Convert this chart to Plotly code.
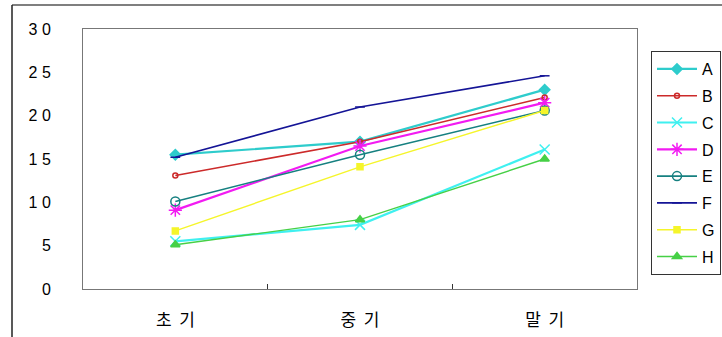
import plotly.graph_objects as go

categories = ["초 기", "중 기", "말 기"]
category_labels = ["초\u00a0\u00a0기", "중\u00a0\u00a0기", "말\u00a0\u00a0기"]
series_names = ["A", "B", "C", "D", "E", "F", "G", "H"]
A = [15.5, 17.0, 23.0]
B = [13.1, 17.0, 22.1]
C = [5.5, 7.4, 16.1]
D = [9.1, 16.5, 21.5]
E = [10.1, 15.5, 20.6]
F = [15.2, 21.0, 24.6]
G = [6.7, 14.1, 20.6]
H = [5.1, 8.0, 15.0]
values = [A, B, C, D, E, F, G, H]
y_tick_vals = [0, 5, 10, 15, 20, 25, 30]
y_tick_text = ["0", "5", "1 0", "1 5", "2 0", "2 5", "3 0"]

colors = ["#2ECCCC", "#CC2A2A", "#3FF0F0", "#F21BF2", "#168080", "#141496", "#F5F52A", "#46D046"]
symbols = ["diamond", "circle-open", "x-thin-open", "asterisk-open", "circle-open", "line-ew-open", "square", "triangle-up"]
msizes = [8, 5, 10, 11, 9, 7, 6, 8]
widths = [2.2, 1.6, 2.2, 2.2, 1.6, 1.6, 1.4, 1.4]

fig = go.Figure()
for i, name in enumerate(series_names):
    fig.add_trace(go.Scatter(
        x=categories, y=values[i], name=name, mode="lines+markers",
        legendgroup=name,
        line=dict(color=colors[i], width=widths[i]),
        marker=dict(symbol=symbols[i], size=msizes[i], color=colors[i],
                    line=dict(color=colors[i], width=1.5)),
    ))

W, H_ = 722, 337
ml, mr, mt, mb = 83, 85, 29, 48
pw, ph = W - ml - mr, H_ - mt - mb

def px(x):
    return (x - ml) / pw

def py(y):
    return (H_ - mb - y) / ph

fig.update_layout(
    width=W, height=H_,
    margin=dict(l=ml, r=mr, t=mt, b=mb, autoexpand=False),
    paper_bgcolor="white", plot_bgcolor="white",
    font=dict(family="Gulim, 'Noto Sans CJK KR', 'Liberation Sans', sans-serif", color="black"),
    showlegend=True,
    legend=dict(
        x=px(651), y=py(51), xanchor="left", yanchor="top",
        bordercolor="#333333", borderwidth=1,
        font=dict(size=16, family="'Liberation Sans', Arial, sans-serif"),
        tracegroupgap=3, itemwidth=40,
    ),
    xaxis=dict(
        type="category", range=[-0.5, 2.5], automargin=False,
        tickmode="array", tickvals=categories, ticktext=category_labels,
        showline=True, linecolor="#777777", linewidth=1, mirror=True,
        ticks="inside", ticklen=5, tickcolor="#333333", tickson="boundaries",
        showgrid=False, zeroline=False,
        tickfont=dict(size=17, family="'Noto Sans CJK KR', sans-serif"),
        ticklabelstandoff=16,
    ),
    yaxis=dict(
        range=[0, 30], tickvals=y_tick_vals, ticktext=y_tick_text, automargin=False,
        showline=True, linecolor="#777777", linewidth=1, mirror=True,
        ticks="", showgrid=False, zeroline=False,
        tickfont=dict(size=16, family="'Liberation Sans', Arial, sans-serif"),
        ticklabelstandoff=28,
    ),
    shapes=[
        dict(type="line", xref="paper", yref="paper", x0=px(12), x1=px(730), y0=py(5), y1=py(5),
             line=dict(color="#555555", width=1.5)),
        dict(type="line", xref="paper", yref="paper", x0=px(12), x1=px(12), y0=py(5), y1=py(345),
             line=dict(color="#222222", width=1.5)),
    ],
)

fig.write_html("out.html")
